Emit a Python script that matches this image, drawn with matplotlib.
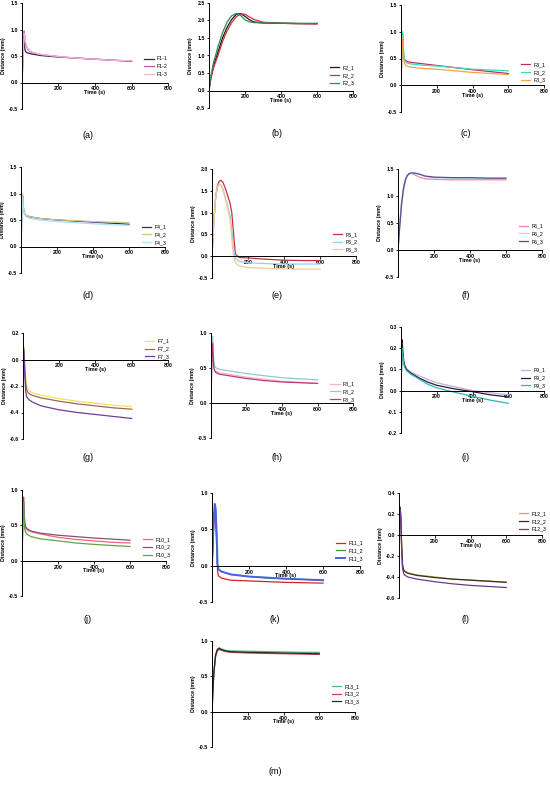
import matplotlib
matplotlib.use('Agg')
import matplotlib.pyplot as plt
import numpy as np

plt.rcParams['font.family'] = ['Liberation Sans', 'DejaVu Sans']

# ---- data (time in s, distance in mm) ----
t_a = [0, 4, 8, 12, 16, 20, 30, 50, 100, 200, 300, 400, 500, 600]
f1_1 = [0, 0.45, 0.87, 0.75, 0.62, 0.58, 0.56, 0.54, 0.51, 0.48, 0.46, 0.44, 0.42, 0.40]
f1_2 = [0, 0.30, 0.70, 0.97, 0.85, 0.72, 0.63, 0.57, 0.53, 0.49, 0.46, 0.44, 0.42, 0.405]
f1_3 = [0, 0.30, 0.65, 0.93, 0.88, 0.75, 0.65, 0.58, 0.53, 0.49, 0.46, 0.44, 0.42, 0.41]

t_b = [0, 10, 25, 50, 75, 100, 125, 150, 175, 200, 225, 250, 300, 400, 500, 600]
f2_1 = [0, 0.35, 0.70, 1.10, 1.50, 1.80, 2.02, 2.17, 2.20, 2.12, 2.02, 1.96, 1.93, 1.92, 1.91, 1.91]
f2_2 = [0, 0.33, 0.65, 1.00, 1.40, 1.70, 1.93, 2.10, 2.19, 2.18, 2.10, 2.03, 1.95, 1.92, 1.91, 1.90]
f2_3 = [0, 0.40, 0.80, 1.25, 1.65, 1.95, 2.13, 2.20, 2.15, 2.02, 1.96, 1.94, 1.93, 1.93, 1.92, 1.92]

t_c = [0, 3, 6, 9, 12, 15, 20, 30, 50, 100, 200, 300, 400, 500, 600]
f3_1 = [-0.1, 0.40, 0.85, 0.95, 0.75, 0.55, 0.48, 0.45, 0.43, 0.41, 0.37, 0.33, 0.29, 0.255, 0.22]
f3_2 = [0, 0.35, 0.80, 1.00, 0.85, 0.60, 0.47, 0.42, 0.40, 0.38, 0.36, 0.33, 0.30, 0.285, 0.27]
f3_3 = [0, 0.30, 0.70, 0.90, 0.70, 0.50, 0.40, 0.36, 0.34, 0.32, 0.30, 0.27, 0.24, 0.22, 0.20]

t_d = [0, 3, 6, 9, 12, 15, 20, 30, 50, 100, 200, 300, 400, 500, 600]
f4_1 = [-0.2, 0.40, 0.85, 0.95, 0.80, 0.68, 0.62, 0.58, 0.56, 0.53, 0.50, 0.48, 0.46, 0.44, 0.42]
f4_2 = [0, 0.40, 0.85, 0.98, 0.82, 0.68, 0.62, 0.59, 0.56, 0.53, 0.50, 0.49, 0.47, 0.46, 0.45]
f4_3 = [0, 0.35, 0.80, 0.92, 0.78, 0.65, 0.60, 0.56, 0.53, 0.50, 0.47, 0.45, 0.43, 0.41, 0.40]

t_e = [0, 10, 20, 30, 40, 50, 60, 75, 90, 100, 110, 120, 130, 150, 200, 300, 400, 500, 600]
f5_1 = [0, 0.80, 1.35, 1.62, 1.72, 1.74, 1.70, 1.55, 1.35, 1.22, 1.00, 0.50, 0.05, -0.03, -0.04, -0.07, -0.09, -0.10, -0.10]
f5_2 = [0, 0.75, 1.30, 1.58, 1.65, 1.63, 1.55, 1.35, 1.10, 0.95, 0.60, 0.15, -0.05, -0.12, -0.15, -0.17, -0.18, -0.18, -0.18]
f5_3 = [0, 0.80, 1.35, 1.60, 1.66, 1.62, 1.52, 1.30, 1.05, 0.85, 0.40, 0.00, -0.15, -0.22, -0.26, -0.28, -0.29, -0.30, -0.30]

t_f = [0, 10, 20, 30, 40, 50, 60, 75, 100, 125, 150, 200, 300, 400, 500, 600]
f6_1 = [0, 0.50, 0.90, 1.15, 1.30, 1.38, 1.41, 1.42, 1.38, 1.34, 1.32, 1.31, 1.30, 1.30, 1.30, 1.30]
f6_2 = [0, 0.45, 0.85, 1.10, 1.27, 1.36, 1.40, 1.42, 1.42, 1.39, 1.36, 1.34, 1.33, 1.33, 1.33, 1.33]
f6_3 = [0, 0.45, 0.85, 1.12, 1.28, 1.37, 1.41, 1.43, 1.42, 1.40, 1.37, 1.35, 1.34, 1.34, 1.33, 1.33]

t_g = [0, 3, 6, 10, 15, 20, 30, 50, 100, 200, 300, 400, 500, 600]
f7_1 = [0, 0.10, 0.08, -0.05, -0.15, -0.20, -0.23, -0.25, -0.27, -0.295, -0.315, -0.33, -0.345, -0.355]
f7_2 = [0, 0.09, 0.06, -0.07, -0.18, -0.23, -0.255, -0.27, -0.29, -0.315, -0.335, -0.35, -0.365, -0.375]
f7_3 = [0, 0.07, 0.03, -0.12, -0.24, -0.28, -0.30, -0.32, -0.35, -0.38, -0.40, -0.415, -0.43, -0.445]

t_h = [0, 3, 6, 9, 12, 15, 20, 30, 50, 100, 200, 300, 400, 500, 600]
f8_1 = [-0.1, 0.40, 0.80, 0.88, 0.70, 0.55, 0.48, 0.45, 0.43, 0.41, 0.37, 0.34, 0.31, 0.295, 0.28]
f8_2 = [0, 0.45, 0.90, 0.95, 0.80, 0.62, 0.53, 0.50, 0.48, 0.46, 0.42, 0.39, 0.36, 0.345, 0.33]
f8_3 = [0, 0.40, 0.80, 0.85, 0.68, 0.52, 0.46, 0.43, 0.41, 0.39, 0.35, 0.32, 0.30, 0.29, 0.28]

t_i = [0, 3, 6, 10, 15, 20, 30, 50, 100, 150, 200, 300, 400, 500, 600]
f9_1 = [-0.17, 0.10, 0.22, 0.18, 0.14, 0.12, 0.105, 0.09, 0.07, 0.052, 0.037, 0.018, 0.0, -0.01, -0.02]
f9_2 = [0, 0.12, 0.24, 0.19, 0.14, 0.12, 0.10, 0.085, 0.06, 0.04, 0.025, 0.008, -0.005, -0.02, -0.03]
f9_3 = [0, 0.10, 0.20, 0.17, 0.13, 0.11, 0.095, 0.08, 0.055, 0.03, 0.013, -0.008, -0.027, -0.045, -0.06]

t_j = [0, 3, 6, 9, 12, 15, 20, 30, 50, 100, 200, 300, 400, 500, 600]
f10_1 = [-0.15, 0.40, 0.88, 0.85, 0.65, 0.52, 0.46, 0.43, 0.41, 0.38, 0.33, 0.30, 0.28, 0.26, 0.25]
f10_2 = [0, 0.40, 0.85, 0.90, 0.70, 0.55, 0.48, 0.45, 0.42, 0.39, 0.36, 0.34, 0.32, 0.305, 0.29]
f10_3 = [0, 0.35, 0.80, 0.82, 0.60, 0.45, 0.40, 0.37, 0.34, 0.31, 0.28, 0.25, 0.23, 0.215, 0.20]

t_k = [0, 5, 10, 15, 20, 25, 30, 35, 50, 100, 200, 300, 400, 500, 600]
f11_1 = [0, 0.30, 0.60, 0.72, 0.65, 0.30, -0.08, -0.14, -0.17, -0.20, -0.21, -0.22, -0.23, -0.235, -0.24]
f11_2 = [0, 0.30, 0.65, 0.78, 0.72, 0.40, 0.00, -0.05, -0.08, -0.12, -0.15, -0.17, -0.18, -0.19, -0.20]
f11_3 = [0, 0.35, 0.70, 0.85, 0.78, 0.45, 0.02, -0.05, -0.08, -0.12, -0.15, -0.165, -0.18, -0.19, -0.20]

t_l = [0, 3, 6, 10, 15, 20, 25, 30, 50, 100, 200, 300, 400, 500, 600]
f12_1 = [0, 0.20, 0.27, 0.20, -0.10, -0.28, -0.32, -0.34, -0.36, -0.38, -0.40, -0.42, -0.43, -0.44, -0.45]
f12_2 = [0, 0.20, 0.26, 0.18, -0.12, -0.29, -0.33, -0.345, -0.365, -0.385, -0.405, -0.42, -0.43, -0.44, -0.45]
f12_3 = [0, 0.18, 0.24, 0.15, -0.15, -0.32, -0.36, -0.38, -0.40, -0.42, -0.445, -0.465, -0.48, -0.49, -0.50]

t_m = [0, 5, 10, 20, 30, 40, 50, 75, 100, 200, 300, 400, 500, 600]
f13_1 = [0, 0.30, 0.55, 0.80, 0.88, 0.90, 0.89, 0.87, 0.86, 0.855, 0.85, 0.845, 0.84, 0.84]
f13_2 = [0, 0.28, 0.52, 0.78, 0.86, 0.88, 0.87, 0.85, 0.84, 0.83, 0.825, 0.82, 0.815, 0.81]
f13_3 = [0, 0.30, 0.55, 0.80, 0.88, 0.90, 0.88, 0.86, 0.85, 0.84, 0.835, 0.83, 0.825, 0.82]

# panel: (label, time, series, names, colors, ylim, ystep, axes box px (l, t, r, b), legend y frac, label px (x, y))
panels = [
    ('(a)', t_a, [f1_1, f1_2, f1_3], ['F1-1', 'F1-2', 'F1-3'], ['#3a2440', '#c455b4', '#f2b6d8'],
     (-0.5, 1.5), 0.5, (22, 3, 168, 109), 0.40, (88, 135)),
    ('(b)', t_b, [f2_1, f2_2, f2_3], ['F2_1', 'F2_2', 'F2_3'], ['#1a1a1a', '#d0303a', '#2e8b57'],
     (-0.5, 2.5), 0.5, (209, 3, 353, 108), 0.31, (277, 134)),
    ('(c)', t_c, [f3_1, f3_2, f3_3], ['F3_1', 'F3_2', 'F3_3'], ['#b8306e', '#3fd9b0', '#f2a445'],
     (-0.5, 1.5), 0.5, (401, 5, 544, 112), 0.37, (466, 134)),
    ('(d)', t_d, [f4_1, f4_2, f4_3], ['F4_1', 'F4_2', 'F4_3'], ['#2b2c7a', '#d4c48a', '#a8e2f0'],
     (-0.5, 1.5), 0.5, (21, 167, 165, 273), 0.36, (88, 296)),
    ('(e)', t_e, [f5_1, f5_2, f5_3], ['F5_1', 'F5_2', 'F5_3'], ['#c8323f', '#8fd3e3', '#f3c89a'],
     (-0.5, 2.0), 0.5, (212, 169, 356, 278), 0.33, (277, 296)),
    ('(f)', t_f, [f6_1, f6_2, f6_3], ['F6_1', 'F6_2', 'F6_3'], ['#ef86a6', '#a8dcea', '#5c4c8c'],
     (-0.5, 1.5), 0.5, (398, 169, 542, 277), 0.40, (466, 296)),
    ('(g)', t_g, [f7_1, f7_2, f7_3], ['F7_1', 'F7_2', 'F7_3'], ['#f1e35e', '#9e6a52', '#6a3fa0'],
     (-0.6, 0.2), 0.2, (23, 333, 168, 439), 0.85, (88, 457)),
    ('(h)', t_h, [f8_1, f8_2, f8_3], ['F8_1', 'F8_2', 'F8_3'], ['#f4b3c4', '#8ccbd2', '#c0386e'],
     (-0.5, 1.0), 0.5, (211, 333, 353, 438), 0.44, (277, 457)),
    ('(i)', t_i, [f9_1, f9_2, f9_3], ['F9_1', 'F9_2', 'F9_3'], ['#c6a8e4', '#1f2030', '#30b3b3'],
     (-0.2, 0.3), 0.1, (401, 327, 544, 433), 0.52, (466, 457)),
    ('(j)', t_j, [f10_1, f10_2, f10_3], ['F10_1', 'F10_2', 'F10_3'], ['#f0647e', '#8a5070', '#62a544'],
     (-0.5, 1.0), 0.5, (22, 490, 166, 596), 0.46, (88, 620)),
    ('(k)', t_k, [f11_1, f11_2, f11_3], ['F11_1', 'F11_2', 'F11_3'], ['#d42222', '#2f9e3a', '#4563e0'],
     (-0.5, 1.0), 0.5, (212, 493, 360, 602), 0.47, (275, 620)),
    ('(l)', t_l, [f12_1, f12_2, f12_3], ['F12_1', 'F12_2', 'F12_3'], ['#c2b04a', '#3a2a22', '#6a3a90'],
     (-0.6, 0.4), 0.2, (399, 493, 542, 598), 0.73, (466, 620)),
    ('(m)', t_m, [f13_1, f13_2, f13_3], ['F13_1', 'F13_2', 'F13_3'], ['#4cb58a', '#d04444', '#2a2a2a'],
     (-0.5, 1.0), 0.5, (212, 641, 355, 747), 0.50, (275, 771)),
]

W, H = 550, 787
fig = plt.figure(figsize=(W / 100, H / 100), dpi=100)

for label, t, series, names, colors, ylim, ystep, box, leg_y, lab in panels:
    l, tp, r, b = box
    ax = fig.add_axes([l / W, 1 - b / H, (r - l) / W, (b - tp) / H])
    for y, name, c in zip(series, names, colors):
        lw = 1.4 if c == '#4563e0' else 0.9
        ax.plot(t, y, color=c, lw=lw, label=name)
    ax.set_xlim(0, 800)
    ax.set_ylim(*ylim)
    ax.set_xticks([200, 400, 600, 800])
    ax.set_yticks(np.arange(ylim[0], ylim[1] + ystep / 2, ystep))
    ax.yaxis.set_major_formatter(matplotlib.ticker.FormatStrFormatter('%.1f'))
    for s in ['top', 'right']:
        ax.spines[s].set_visible(False)
    ax.spines['bottom'].set_position(('data', 0))
    ax.spines['left'].set_position(('data', 0))
    for s in ['bottom', 'left']:
        ax.spines[s].set_linewidth(0.7)
    ax.tick_params(length=1.8, width=0.6, labelsize=3.8, pad=1)
    for tl in ax.get_xticklabels() + ax.get_yticklabels():
        tl.set_fontweight('bold')
    ax.text(400, 0, 'Time (s)', fontsize=4, fontweight='bold', ha='center', va='center',
            transform=ax.transData +
            matplotlib.transforms.ScaledTranslation(0, -10 / 100, fig.dpi_scale_trans))
    ax.set_ylabel('Distance (mm)', fontsize=3.8, fontweight='bold', labelpad=2)
    ax.legend(loc='center left', bbox_to_anchor=(0.82, leg_y), frameon=False, fontsize=3.8,
              handlelength=1.8, handletextpad=0.6, labelspacing=0.5, borderpad=0)
    fig.text(lab[0] / W, 1 - lab[1] / H, label, fontsize=6.5, ha='center', va='center')

fig.savefig('out.png', dpi=100)
